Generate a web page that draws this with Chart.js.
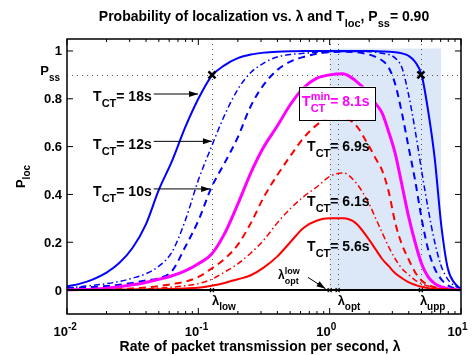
<!DOCTYPE html>
<html>
<head>
<meta charset="utf-8">
<script src="https://cdn.jsdelivr.net/npm/chart.js@4"></script>
<style>
  html, body { margin: 0; padding: 0; background: #fff; }
  canvas { display: block; }
</style>
</head>
<body>
<canvas id="out" width="473" height="355"></canvas>
<script>
// rate of packet transmission (per second), sample points
const lambda = [0.01, 0.0126, 0.0158, 0.02, 0.0251, 0.0316, 0.0398, 0.0501, 0.0631, 0.0794,
  0.1, 0.126, 0.158, 0.2, 0.251, 0.316, 0.398, 0.501, 0.631, 0.794,
  1, 1.26, 1.58, 2, 2.24, 2.51, 2.82, 3.16, 3.55, 3.98,
  4.47, 5.01, 5.62, 6.31, 7.08, 7.94, 8.91, 10];

// P_loc for each T_CT
const pBlue18 = [0.015, 0.027, 0.045, 0.073, 0.114, 0.177, 0.274, 0.42, 0.54, 0.68,
  0.8, 0.895, 0.94, 0.97, 0.985, 0.993, 0.997, 0.999, 1, 1,
  1, 1, 1, 1, 0.999, 0.998, 0.997, 0.995, 0.99, 0.98,
  0.955, 0.9, 0.75, 0.55, 0.27, 0.09, 0.03, 0.005];
const pBlue12 = [0.01, 0.014, 0.02, 0.027, 0.036, 0.05, 0.068, 0.1, 0.16, 0.29,
  0.46, 0.6, 0.73, 0.84, 0.91, 0.95, 0.975, 0.985, 0.99, 0.995,
  0.997, 0.998, 0.998, 0.997, 0.995, 0.99, 0.985, 0.97, 0.93, 0.82,
  0.67, 0.5, 0.34, 0.2, 0.1, 0.045, 0.018, 0.005];
const pBlue10 = [0.008, 0.01, 0.013, 0.017, 0.022, 0.03, 0.04, 0.05, 0.08, 0.18,
  0.29, 0.43, 0.53, 0.64, 0.77, 0.86, 0.92, 0.955, 0.975, 0.988,
  0.995, 0.997, 0.995, 0.985, 0.975, 0.96, 0.93, 0.86, 0.74, 0.6,
  0.46, 0.3, 0.17, 0.09, 0.045, 0.02, 0.008, 0.003];
const pMag81 = [0.001, 0.002, 0.004, 0.008, 0.014, 0.022, 0.032, 0.045, 0.06, 0.08,
  0.11, 0.15, 0.235, 0.36, 0.49, 0.6, 0.685, 0.775, 0.845, 0.885,
  0.9, 0.905, 0.875, 0.82, 0.78, 0.74, 0.66, 0.57, 0.44, 0.31,
  0.2, 0.11, 0.055, 0.027, 0.013, 0.006, 0.003, 0.001];
const pRed69 = [0, 0, 0.001, 0.002, 0.004, 0.007, 0.011, 0.017, 0.025, 0.035,
  0.055, 0.09, 0.13, 0.19, 0.28, 0.39, 0.48, 0.56, 0.635, 0.69,
  0.72, 0.72, 0.69, 0.6, 0.55, 0.5, 0.41, 0.28, 0.19, 0.13,
  0.075, 0.04, 0.022, 0.012, 0.006, 0.003, 0.001, 0];
const pRed61 = [0, 0, 0, 0.001, 0.002, 0.003, 0.005, 0.008, 0.012, 0.018,
  0.027, 0.045, 0.075, 0.11, 0.155, 0.21, 0.28, 0.34, 0.39, 0.43,
  0.475, 0.49, 0.45, 0.36, 0.3, 0.24, 0.18, 0.13, 0.09, 0.065,
  0.042, 0.027, 0.017, 0.01, 0.005, 0.003, 0.001, 0];
const pRed56 = [0, 0, 0, 0, 0.001, 0.001, 0.002, 0.003, 0.005, 0.007,
  0.01, 0.018, 0.03, 0.045, 0.062, 0.095, 0.14, 0.2, 0.26, 0.29,
  0.3, 0.3, 0.28, 0.21, 0.17, 0.13, 0.1, 0.07, 0.05, 0.033,
  0.022, 0.014, 0.008, 0.005, 0.003, 0.001, 0.001, 0];

const xTicks = [0.01, 0.1, 1, 10];
const xTickExp = ['-2', '-1', '0', '1'];
const yTicks = [0, 0.2, 0.4, 0.6, 0.8, 1];
const yTickLabels = ['0', '0.2', '0.4', '0.6', '0.8', '1'];

const pSS = 0.9;
const lambdaLow = 0.127;
const lambdaOptLow = 1.0;
const lambdaOpt = 1.15;
const lambdaUpp = 4.95;
const shadeRange = [1.0, 7.05];

const FONT = '"Liberation Sans", Arial, Helvetica, sans-serif';
const font = (size, bold = true) => (bold ? 'bold ' : '') + size + 'px ' + FONT;

// rich text: parts are [text] / [text,'sub'] / [text,'sup'] / [sub, 'subsup', sup]
function partWidth(ctx, p, size) {
  const small = Math.round(size * 0.78);
  if (p[1] === 'subsup') {
    ctx.font = font(small);
    return Math.max(ctx.measureText(p[0]).width, ctx.measureText(p[2]).width);
  }
  ctx.font = font(p[1] ? small : size);
  return ctx.measureText(p[0]).width;
}
function drawRich(ctx, parts, x, y, opts = {}) {
  const size = opts.size || 12;
  const small = Math.round(size * 0.78);
  const align = opts.align || 'left';
  ctx.save();
  ctx.fillStyle = opts.color || '#000';
  ctx.textAlign = 'left';
  ctx.textBaseline = 'alphabetic';
  let w = 0;
  for (const p of parts) w += partWidth(ctx, p, size);
  let cx = align === 'center' ? x - w / 2 : align === 'right' ? x - w : x;
  for (const p of parts) {
    const pw = partWidth(ctx, p, size);
    if (p[1] === 'subsup') {
      ctx.font = font(small);
      ctx.fillText(p[0], cx, y + size * 0.42);
      ctx.fillText(p[2], cx, y - size * 0.45);
    } else if (p[1] === 'sub') {
      ctx.font = font(small);
      ctx.fillText(p[0], cx, y + size * 0.42);
    } else if (p[1] === 'sup') {
      ctx.font = font(small);
      ctx.fillText(p[0], cx, y - size * 0.45);
    } else {
      ctx.font = font(size);
      ctx.fillText(p[0], cx, y);
    }
    cx += pw;
  }
  ctx.restore();
  return w;
}

function arrow(ctx, x1, y1, x2, y2) {
  const a = Math.atan2(y2 - y1, x2 - x1);
  ctx.save();
  ctx.strokeStyle = '#000';
  ctx.fillStyle = '#000';
  ctx.lineWidth = 1;
  ctx.beginPath();
  ctx.moveTo(x1, y1);
  ctx.lineTo(x2, y2);
  ctx.stroke();
  ctx.beginPath();
  ctx.moveTo(x2, y2);
  ctx.lineTo(x2 - 9 * Math.cos(a) + 3 * Math.sin(a), y2 - 9 * Math.sin(a) - 3 * Math.cos(a));
  ctx.lineTo(x2 - 9 * Math.cos(a) - 3 * Math.sin(a), y2 - 9 * Math.sin(a) + 3 * Math.cos(a));
  ctx.closePath();
  ctx.fill();
  ctx.restore();
}

function cross(ctx, x, y, r, lw) {
  ctx.save();
  ctx.strokeStyle = '#000';
  ctx.lineWidth = lw;
  ctx.beginPath();
  ctx.moveTo(x - r, y - r); ctx.lineTo(x + r, y + r);
  ctx.moveTo(x - r, y + r); ctx.lineTo(x + r, y - r);
  ctx.stroke();
  ctx.restore();
}

const decor = {
  id: 'decor',
  beforeDatasetsDraw(chart) {
    const { ctx, chartArea: a, scales: { x, y } } = chart;
    ctx.save();
    // shaded feasible region
    ctx.fillStyle = 'rgb(220,232,248)';
    const sx1 = x.getPixelForValue(shadeRange[0]);
    const sx2 = x.getPixelForValue(shadeRange[1]);
    const sy1 = y.getPixelForValue(1.01);
    const sy2 = y.getPixelForValue(0);
    ctx.fillRect(sx1, sy1, sx2 - sx1, sy2 - sy1);

    // dotted guide lines
    ctx.strokeStyle = '#555';
    ctx.lineWidth = 1;
    ctx.setLineDash([1, 4]);
    const yp = Math.round(y.getPixelForValue(pSS)) + 0.5;
    ctx.beginPath();
    ctx.moveTo(a.left, yp); ctx.lineTo(a.right, yp);
    for (const v of [lambdaLow, lambdaOptLow, lambdaOpt, lambdaUpp]) {
      const xp = Math.round(x.getPixelForValue(v)) + 0.5;
      ctx.moveTo(xp, a.top); ctx.lineTo(xp, y.getPixelForValue(0));
    }
    ctx.stroke();
    ctx.restore();
  },
  afterDatasetsDraw(chart) {
    const { ctx, chartArea: a, scales: { x, y } } = chart;
    ctx.save();
    // zero line
    const y0 = y.getPixelForValue(0);
    ctx.strokeStyle = '#000';
    ctx.lineWidth = 2;
    ctx.beginPath();
    ctx.moveTo(a.left, y0); ctx.lineTo(a.right, y0);
    ctx.stroke();

    // box
    ctx.lineWidth = 1.5;
    ctx.strokeRect(a.left, a.top, a.right - a.left, a.bottom - a.top);

    // ticks
    ctx.lineWidth = 1;
    ctx.beginPath();
    for (let d = 0; d < xTicks.length; d++) {
      const xp = x.getPixelForValue(xTicks[d]);
      ctx.moveTo(xp, a.bottom); ctx.lineTo(xp, a.bottom - 6);
      ctx.moveTo(xp, a.top); ctx.lineTo(xp, a.top + 6);
      if (d < xTicks.length - 1) {
        for (let m = 2; m <= 9; m++) {
          const mp = x.getPixelForValue(xTicks[d] * m);
          ctx.moveTo(mp, a.bottom); ctx.lineTo(mp, a.bottom - 3);
          ctx.moveTo(mp, a.top); ctx.lineTo(mp, a.top + 3);
        }
      }
    }
    for (const v of yTicks) {
      const ypx = y.getPixelForValue(v);
      ctx.moveTo(a.left, ypx); ctx.lineTo(a.left + 6, ypx);
      ctx.moveTo(a.right, ypx); ctx.lineTo(a.right - 6, ypx);
    }
    ctx.stroke();

    // tick labels
    for (let i = 0; i < yTicks.length; i++) {
      drawRich(ctx, [[yTickLabels[i]]], a.left - 5, y.getPixelForValue(yTicks[i]) + 4.5, { size: 13, align: 'right' });
    }
    drawRich(ctx, [['P'], ['ss', 'sub']], a.left - 7, y.getPixelForValue(pSS) + 0.5, { size: 13, align: 'right' });
    for (let i = 0; i < xTicks.length; i++) {
      const xp = x.getPixelForValue(xTicks[i]);
      drawRich(ctx, [['10']], xp + 1, a.bottom + 22, { size: 13, align: 'right' });
      drawRich(ctx, [[xTickExp[i], 'sup']], xp + 1, a.bottom + 22, { size: 13 });
    }

    // axis titles
    drawRich(ctx, [['Probability of localization vs. λ and T'], ['loc', 'sub'], [', P'], ['ss', 'sub'], ['= 0.90']],
      (a.left + a.right) / 2, 21, { size: 14, align: 'center' });
    drawRich(ctx, [['Rate of packet transmission per second, λ']], (a.left + a.right) / 2 - 4, 351, { size: 14, align: 'center' });
    ctx.save();
    ctx.translate(25, (a.top + a.bottom) / 2);
    ctx.rotate(-Math.PI / 2);
    drawRich(ctx, [['P'], ['loc', 'sub']], 0, 0, { size: 13, align: 'center' });
    ctx.restore();

    // P_ss crossing markers
    cross(ctx, x.getPixelForValue(lambdaLow), y.getPixelForValue(pSS), 3.5, 2.5);
    cross(ctx, x.getPixelForValue(lambdaUpp), y.getPixelForValue(pSS), 3.5, 2.5);
    for (const v of [lambdaLow, lambdaOptLow, lambdaOpt, lambdaUpp]) {
      cross(ctx, x.getPixelForValue(v), y0, 2, 1.2);
    }

    // lambda labels under the zero line
    const lamY = y.getPixelForValue(-0.062);
    drawRich(ctx, [['λ'], ['low', 'sub']], x.getPixelForValue(lambdaLow), lamY, { size: 13 });
    drawRich(ctx, [['λ'], ['opt', 'sub']], x.getPixelForValue(lambdaOpt), lamY, { size: 13 });
    drawRich(ctx, [['λ'], ['upp', 'sub']], x.getPixelForValue(lambdaUpp) - 1, lamY, { size: 13 });
    drawRich(ctx, [['λ'], ['opt', 'subsup', 'low']], x.getPixelForValue(0.404), y.getPixelForValue(0.045), { size: 12 });
    arrow(ctx, x.getPixelForValue(0.684), y.getPixelForValue(0.053), x.getPixelForValue(0.93), y.getPixelForValue(0.006));

    // T_CT labels with arrows
    const tLeft = x.getPixelForValue(0.0158);
    const blueLabels = [
      { txt: '= 18s', yb: 0.791, ya: 0.82, xa: 0.0995 },
      { txt: '= 12s', yb: 0.591, ya: 0.622, xa: 0.127 },
      { txt: '= 10s', yb: 0.395, ya: 0.423, xa: 0.123 }
    ];
    for (const l of blueLabels) {
      const w = drawRich(ctx, [['T'], ['CT', 'sub'], [l.txt]], tLeft, y.getPixelForValue(l.yb), { size: 14 });
      arrow(ctx, tLeft + w + 2, y.getPixelForValue(l.ya), x.getPixelForValue(l.xa), y.getPixelForValue(l.ya));
    }
    const redLeft = x.getPixelForValue(0.673);
    drawRich(ctx, [['T'], ['CT', 'sub'], ['= 6.9s']], redLeft, y.getPixelForValue(0.58), { size: 14 });
    drawRich(ctx, [['T'], ['CT', 'sub'], ['= 6.1s']], redLeft, y.getPixelForValue(0.35), { size: 14 });
    drawRich(ctx, [['T'], ['CT', 'sub'], ['= 5.6s']], redLeft, y.getPixelForValue(0.163), { size: 14 });

    // boxed minimum label
    const bx1 = x.getPixelForValue(0.585), bx2 = x.getPixelForValue(2.22);
    const by1 = y.getPixelForValue(0.851), by2 = y.getPixelForValue(0.712);
    ctx.fillStyle = '#fff';
    ctx.fillRect(bx1, by1, bx2 - bx1, by2 - by1);
    ctx.strokeStyle = '#000';
    ctx.lineWidth = 1;
    ctx.strokeRect(Math.round(bx1) + 0.5, Math.round(by1) + 0.5, Math.round(bx2 - bx1), Math.round(by2 - by1));
    drawRich(ctx, [['T'], ['CT', 'subsup', 'min'], ['= 8.1s']], x.getPixelForValue(0.617), y.getPixelForValue(0.768),
      { size: 14, color: '#ff00ff' });
    ctx.restore();
  }
};

const toPts = (vals) => vals.map((v, i) => ({ x: lambda[i], y: v }));
const line = (vals, color, width, dash) => ({
  data: toPts(vals),
  borderColor: color,
  borderWidth: width,
  borderDash: dash,
  pointRadius: 0,
  fill: false,
  cubicInterpolationMode: 'monotone'
});

new Chart(document.getElementById('out').getContext('2d'), {
  type: 'line',
  data: {
    datasets: [
      line(pRed56, '#ff0000', 2, []),
      line(pRed61, '#ff0000', 1.5, [6, 3, 1.5, 3]),
      line(pRed69, '#ff0000', 2, [7, 5]),
      line(pMag81, '#ff00ff', 3, []),
      line(pBlue10, '#0000ff', 2, [7, 5]),
      line(pBlue12, '#0000ff', 1.5, [6, 3, 1.5, 3]),
      line(pBlue18, '#0000ff', 2, [])
    ]
  },
  options: {
    responsive: false,
    animation: false,
    devicePixelRatio: 1,
    layout: { padding: { left: 67, right: 12, top: 39, bottom: 41 } },
    plugins: { legend: { display: false }, tooltip: { enabled: false } },
    scales: {
      x: { type: 'logarithmic', min: 0.01, max: 10, display: false },
      y: { type: 'linear', min: -0.1, max: 1.05, display: false }
    }
  },
  plugins: [decor]
});
</script>
</body>
</html>
